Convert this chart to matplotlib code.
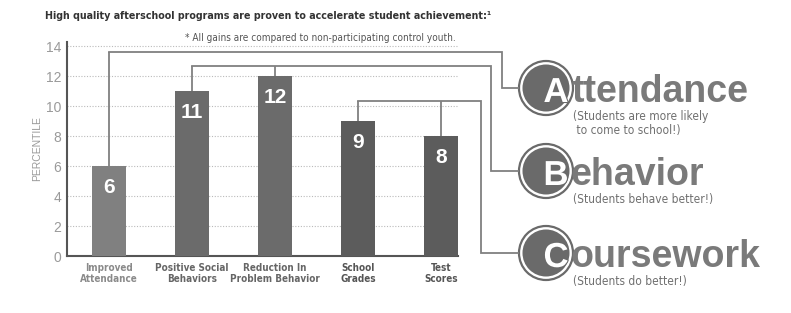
import os
import matplotlib
matplotlib.use("Agg")
import matplotlib.pyplot as plt
from matplotlib import font_manager as fm
from matplotlib.font_manager import FontProperties
from matplotlib.patches import Circle
import matplotlib.patheffects as pe

# ---------------- data ----------------
categories = ["Improved\nAttendance", "Positive Social\nBehaviors", "Reduction In\nProblem Behavior",
              "School\nGrades", "Test\nScores"]
values = [6, 11, 12, 9, 8]
bar_colors = ["#808080", "#6b6b6b", "#6b6b6b", "#5c5c5c", "#5c5c5c"]
label_colors = ["#8a8a8a", "#666666", "#666666", "#555555", "#555555"]
yticks = [0, 2, 4, 6, 8, 10, 12, 14]
title = "High quality afterschool programs are proven to accelerate student achievement:\u00b9"
footnote = "* All gains are compared to non-participating control youth."
groups = [  # (first letter, rest, subtitle lines, bar indices)
    ("A", "ttendance", ["(Students are more likely", " to come to school!)"], [0]),
    ("B", "ehavior", ["(Students behave better!)"], [1, 2]),
    ("C", "oursework", ["(Students do better!)"], [3, 4]),
]

names = {f.name for f in fm.fontManager.ttflist}
SANS = "Liberation Sans" if "Liberation Sans" in names else "DejaVu Sans"
files = {os.path.basename(f.fname): f.fname for f in fm.fontManager.ttflist}


def pick(keys, bold):
    for k in keys:
        for b, p in files.items():
            if b.startswith(k):
                return FontProperties(fname=p)
    return FontProperties(family=SANS, weight="bold" if bold else "normal")


COND_B = pick(["LiberationSansNarrow-Bold.", "NotoSans-CondensedBold.", "NotoSans-SemiCondensedBold.",
               "DejaVuSansCondensed-Bold.", "OpenSans-CondensedBold.", "OpenSans_Condensed-Bold."], True)
COND_R = pick(["LiberationSansNarrow-Regular.", "NotoSans-Condensed.", "NotoSans-SemiCondensed.",
               "DejaVuSansCondensed.", "OpenSans-CondensedLight.", "OpenSans_Condensed-Regular."], False)

W, H = 791, 313
fig = plt.figure(figsize=(W / 100, H / 100), dpi=100)
renderer = fig.canvas.get_renderer()


def fp(base, size):
    p = base.copy()
    p.set_size(size)
    return p


def fit_width(t, target):
    w = t.get_window_extent(renderer).width
    if w > 0:
        t.set_fontsize(t.get_fontsize() * target / w)


ax = fig.add_axes([67 / W, 1 - 256 / H, (458 - 67) / W, (256 - 42) / H])

x = list(range(len(values)))
ax.bar(x, values, width=0.41, color=bar_colors, zorder=3)
ax.set_xlim(-0.506, 4.205)
ax.set_ylim(0, 14.27)
ax.set_yticks(yticks)
ax.set_yticklabels([str(t) for t in yticks], fontfamily=SANS, fontsize=10, color="#9a9a9a")
ax.set_xticks(x)
ax.set_xticklabels(categories, fontproperties=fp(COND_B, 8), linespacing=1.15)
xt = ax.get_xticklabels()
for t, c in zip(xt, label_colors):
    t.set_color(c)
fit_width(xt[2], 89)
for t in xt:
    t.set_fontsize(xt[2].get_fontsize())
ax.tick_params(axis="both", length=0)
ax.tick_params(axis="y", pad=4)
ax.tick_params(axis="x", pad=5)
ax.set_ylabel("PERCENTILE", fontfamily=SANS, fontsize=7.5, color="#9a9a9a", labelpad=3)
for s in ["top", "right"]:
    ax.spines[s].set_visible(False)
for s in ["left", "bottom"]:
    ax.spines[s].set_color("#555555")
    ax.spines[s].set_linewidth(1.5)
for t in yticks[1:]:
    ax.axhline(t, color="#bbbbbb", lw=0.8, ls=(0, (1, 1.5)), zorder=1)

for xi, v in zip(x, values):
    ax.text(xi, v - 1.4, str(v), ha="center", va="center", color="white",
            fontfamily=SANS, fontweight="bold", fontsize=15, zorder=4)

tt = fig.text(45 / W, 1 - 19 / H, title, fontproperties=fp(COND_B, 9.6),
              color="#333333", ha="left", va="baseline")
fit_width(tt, 447)
ft = fig.text(320 / W, 1 - 38 / H, footnote, fontproperties=fp(COND_R, 7.4),
              color="#555555", ha="center", va="center")
fit_width(ft, 270)

# ---------------- overlay in pixel coordinates ----------------
ov = fig.add_axes([0, 0, 1, 1], zorder=5)
ov.set_xlim(0, W)
ov.set_ylim(H, 0)
ov.axis("off")
ov.patch.set_alpha(0)


def top_px(i):
    dx, dy = ax.transData.transform((x[i], values[i]))
    return dx, H - dy


line_c = "#808080"
lw = 1.3
route_y = [52, 66, 101]      # horizontal run heights (px)
route_x = [502, 491, 481]    # vertical run x (px)
centers = [88, 171, 253]     # circle centre y (px)
cx = 546
sub_size = None
for (first, rest, subs, idx), ry, rx, cy in zip(groups, route_y, route_x, centers):
    xs = []
    for i in idx:
        px, py = top_px(i)
        ov.plot([px, px], [py, ry], color=line_c, lw=lw, solid_capstyle="butt")
        xs.append(px)
    ov.plot([min(xs), rx, rx, cx - 28], [ry, ry, cy, cy], color=line_c, lw=lw,
            solid_joinstyle="miter")
    ov.add_patch(Circle((cx, cy), 27, fill=False, ec="#6a6a6a", lw=1.6))
    ov.add_patch(Circle((cx, cy), 23.5, fc="#6a6a6a", ec="none"))
    ov.text(556, cy + 14, first, ha="center", va="baseline", color="white",
            fontfamily=SANS, fontweight="bold", fontsize=25,
            path_effects=[pe.withStroke(linewidth=1.5, foreground="#6a6a6a")])
    ov.text(571, cy + 14, rest, ha="left", va="baseline", color="#7a7a7a",
            fontfamily=SANS, fontweight="bold", fontsize=27)
    for k, s in enumerate(subs):
        st = ov.text(573, cy + 32 + 14 * k, s, ha="left", va="baseline", color="#707070",
                     fontproperties=fp(COND_R, 9))
        if sub_size is None:
            fit_width(st, 135)
            sub_size = st.get_fontsize()
        else:
            st.set_fontsize(sub_size)

fig.savefig("out.png", dpi=100)
